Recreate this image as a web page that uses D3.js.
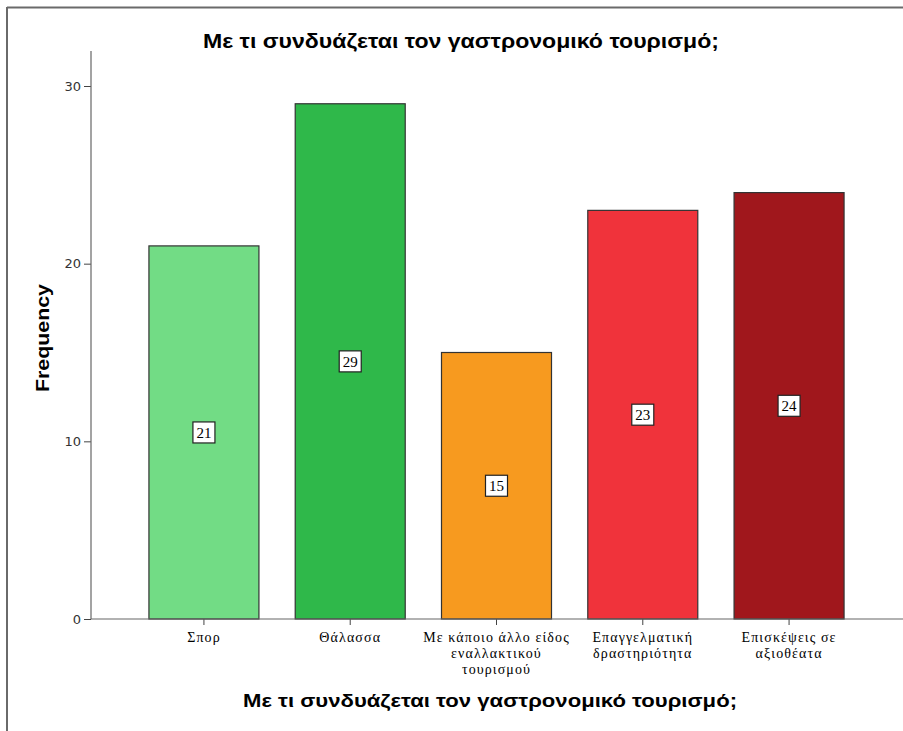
<!DOCTYPE html>
<html>
<head>
<meta charset="utf-8">
<script src="https://cdn.jsdelivr.net/npm/d3@7/dist/d3.min.js"></script>
<style>
  html, body { margin: 0; padding: 0; background: #fff; }
  svg { display: block; }
</style>
</head>
<body>
<svg id="chart" width="903" height="731"></svg>
<script>
// Category labels (each entry is a list of wrapped lines)
const categories = [
  ["Σπορ"],
  ["Θάλασσα"],
  ["Με κάποιο άλλο είδος", "εναλλακτικού", "τουρισμού"],
  ["Επαγγελματική", "δραστηριότητα"],
  ["Επισκέψεις σε", "αξιοθέατα"]
];
const frequencies = [21, 29, 15, 23, 24];
const barColors = ["#72dc85", "#2fb84a", "#f79a1f", "#f0333b", "#a0171c"];
const yTicks = [0, 10, 20, 30];
const chartTitle = "Με τι συνδυάζεται τον γαστρονομικό τουρισμό;";
const xTitle = "Με τι συνδυάζεται τον γαστρονομικό τουρισμό;";
const yTitle = "Frequency";

const svg = d3.select("#chart");
const W = 903, H = 731;

// outer frame (top and left edges)
svg.append("line").attr("x1", 7).attr("x2", W).attr("y1", 7.5).attr("y2", 7.5)
  .attr("stroke", "#6a6a6a").attr("stroke-width", 2);
svg.append("line").attr("x1", 7).attr("x2", 7).attr("y1", 7).attr("y2", H)
  .attr("stroke", "#6a6a6a").attr("stroke-width", 2);

const plot = { left: 91, right: 902, top: 51, bottom: 619 };

const x = d3.scaleBand()
  .domain(d3.range(categories.length))
  .range([plot.left, plot.right])
  .paddingInner(0.248)
  .paddingOuter(0.396);

const y = d3.scaleLinear()
  .domain([0, 30])
  .range([plot.bottom, 86]);

// title
svg.append("text")
  .attr("x", 461).attr("y", 48)
  .attr("text-anchor", "middle")
  .attr("font-family", "Liberation Sans, Arial, sans-serif")
  .attr("font-weight", "bold")
  .attr("font-size", 20)
  .attr("textLength", 516)
  .attr("lengthAdjust", "spacingAndGlyphs")
  .attr("fill", "#000")
  .text(chartTitle);

// bars
svg.append("g").selectAll("rect")
  .data(frequencies)
  .join("rect")
  .attr("x", (d, i) => x(i))
  .attr("y", d => y(d))
  .attr("width", x.bandwidth())
  .attr("height", d => y(0) - y(d))
  .attr("fill", (d, i) => barColors[i])
  .attr("stroke", "#333")
  .attr("stroke-width", 1.2);

// y axis
const yAxis = d3.axisLeft(y).tickValues(yTicks).tickSize(7).tickPadding(3);
const gy = svg.append("g").attr("transform", `translate(${plot.left},0)`).call(yAxis);
gy.select(".domain").remove();
gy.append("line").attr("x1", 0).attr("x2", 0).attr("y1", plot.top).attr("y2", plot.bottom)
  .attr("stroke", "#666").attr("stroke-width", 1.2);
gy.selectAll(".tick line").attr("stroke", "#444");
gy.selectAll(".tick text")
  .attr("font-family", "DejaVu Sans, sans-serif")
  .attr("font-size", 13)
  .attr("fill", "#333");

// x axis
const xAxis = d3.axisBottom(x).tickSize(6).tickFormat(() => "");
const gx = svg.append("g").attr("transform", `translate(0,${plot.bottom})`).call(xAxis);
gx.select(".domain").remove();
gx.append("line").attr("x1", plot.left).attr("x2", W).attr("y1", 0).attr("y2", 0)
  .attr("stroke", "#666").attr("stroke-width", 1.2);
gx.selectAll(".tick line").attr("stroke", "#444");

// wrapped category labels
gx.selectAll(".tick").each(function(d) {
  const t = d3.select(this).append("text")
    .attr("text-anchor", "middle")
    .attr("font-family", "Liberation Serif, Times New Roman, serif")
    .attr("font-size", 14)
    .attr("letter-spacing", 1.1)
    .attr("fill", "#000")
    .attr("y", 23);
  categories[d].forEach((line, k) => {
    t.append("tspan").attr("x", 0).attr("dy", k === 0 ? 0 : 16).text(line);
  });
});

// value labels in boxes at bar mid-height
const labels = svg.append("g").selectAll("g")
  .data(frequencies)
  .join("g")
  .attr("transform", (d, i) => `translate(${x(i) + x.bandwidth() / 2},${(y(d) + y(0)) / 2})`);
labels.append("rect")
  .attr("x", -11).attr("y", -10.5).attr("width", 22).attr("height", 21)
  .attr("fill", "#fff").attr("stroke", "#222").attr("stroke-width", 1.2);
labels.append("text")
  .attr("text-anchor", "middle")
  .attr("dy", "0.35em")
  .attr("font-family", "Liberation Serif, Times New Roman, serif")
  .attr("font-size", 15)
  .attr("fill", "#000")
  .text(d => d);

// axis titles
svg.append("text")
  .attr("x", 490).attr("y", 707)
  .attr("text-anchor", "middle")
  .attr("font-family", "Liberation Sans, Arial, sans-serif")
  .attr("font-weight", "bold")
  .attr("font-size", 19)
  .attr("textLength", 494)
  .attr("lengthAdjust", "spacingAndGlyphs")
  .attr("fill", "#000")
  .text(xTitle);

svg.append("text")
  .attr("transform", "translate(49,338) rotate(-90)")
  .attr("text-anchor", "middle")
  .attr("font-family", "Liberation Sans, Arial, sans-serif")
  .attr("font-weight", "bold")
  .attr("font-size", 19)
  .attr("textLength", 108)
  .attr("lengthAdjust", "spacingAndGlyphs")
  .attr("fill", "#000")
  .text(yTitle);
</script>
</body>
</html>
